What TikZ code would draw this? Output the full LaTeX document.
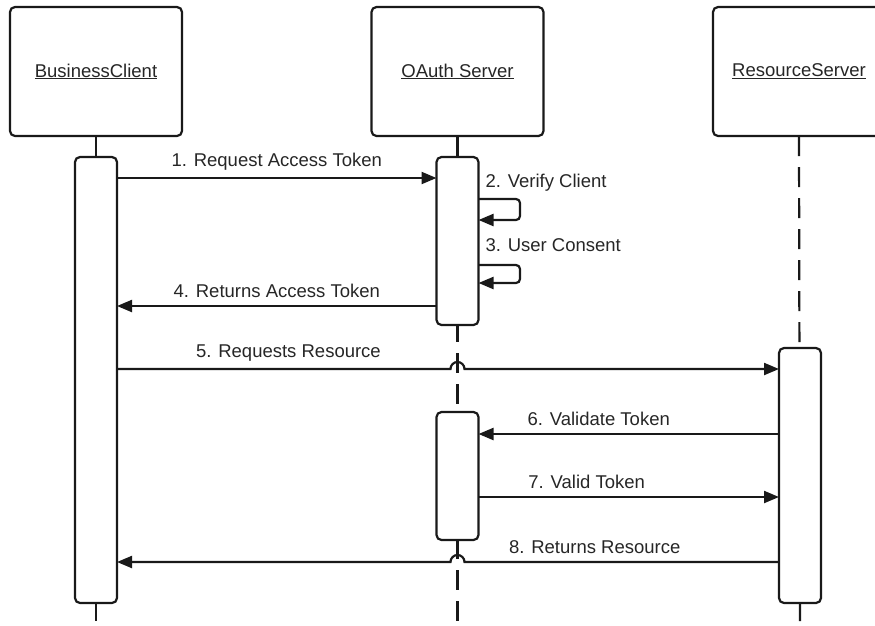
\documentclass[tikz,border=0pt]{standalone}
\usepackage{fontspec}
\setmainfont{Liberation Sans}
\usetikzlibrary{arrows.meta}

\begin{document}
\begin{tikzpicture}[x=1pt, y=-1pt, font=\fontsize{18.5}{22}\selectfont,
  line width=2.2pt, color=black!90, text=black!85,
  every node/.style={inner sep=0pt, outer sep=0pt},
  head/.style={draw, rounded corners=5pt, fill=white, minimum width=172pt, minimum height=129pt},
  bar/.style={draw, rounded corners=5pt, fill=white, minimum width=42pt},
  life/.style={dash pattern=on 20pt off 11pt},
  msg/.style={-{Triangle[length=15pt,width=12pt]}},
  loop/.style={msg, rounded corners=4pt}]
      \useasboundingbox (0,0) rectangle (875,625);
      \clip (0,0) rectangle (875,625);

      \draw (96,71.5) node[head] (bc) {\underline{BusinessClient}};
      \draw (457.5,71.5) node[head] (os) {\underline{OAuth Server}};
      \draw (799,71.5) node[head] (rs) {\underline{ResourceServer}};

      \coordinate (bottom) at (0,640);
      \draw[life] (bc.south) -- (bc.south |- bottom);
      \draw[life] (os.south) -- (os.south |- bottom);
      \draw[life] (rs.south) -- ([xshift=1pt]rs.south |- bottom);

      \draw (96,380) node[bar, minimum height=446pt] (bcbar) {};
      \draw (457.5,241) node[bar, minimum height=168pt] (osbar1) {};
      \draw (457.5,476) node[bar, minimum height=128pt] (osbar2) {};
      \draw (800,475.5) node[bar, minimum height=255pt] (rsbar) {};

      \coordinate (m1) at (0,178);
      \coordinate (m2) at (520,199);
      \coordinate (m2b) at (520,220);
      \coordinate (m3) at (520,265);
      \coordinate (m3b) at (520,283);
      \coordinate (m4) at (0,306);
      \coordinate (m5) at (0,369);
      \coordinate (m6) at (0,434);
      \coordinate (m7) at (0,497);
      \coordinate (m8) at (0,562);
      \coordinate (j5) at (osbar1.center |- m5);
      \coordinate (j8) at (osbar1.center |- m8);

      \draw[msg] (bcbar.east |- m1) -- (osbar1.west |- m1)
        node[midway, above=8pt] (l1) {1. Request Access Token};

      \draw[loop] (osbar1.east |- m2) -- (m2) -- (m2b) -- (osbar1.east |- m2b);
      \node[anchor=west] (l2) at ([xshift=7pt, yshift=16pt]osbar1.east |- m2) {2. Verify Client};

      \draw[loop] (osbar1.east |- m3) -- (m3) -- (m3b) -- (osbar1.east |- m3b);
      \node[anchor=west] (l3) at ([xshift=7pt, yshift=20pt]osbar1.east |- m3) {3. User Consent};

      \draw[msg] (osbar1.west |- m4) -- (bcbar.east |- m4)
        node[midway, above=8pt] (l4) {4. Returns Access Token};

      \draw[msg] (bcbar.east |- m5) -- ([xshift=-7pt]j5)
        node[pos=0.514, above=8pt] (l5) {5. Requests Resource}
        arc[start angle=180, end angle=360, radius=7] -- (rsbar.west |- m5);

      \draw[msg] (rsbar.west |- m6) -- (osbar2.east |- m6)
        node[pos=0.6, above=8pt] (l6) {6. Validate Token};

      \draw[msg] (osbar2.east |- m7) -- (rsbar.west |- m7)
        node[pos=0.36, above=8pt] (l7) {7. Valid Token};

      \draw[msg] (rsbar.west |- m8) -- ([xshift=7pt]j8)
        node[pos=0.586, above=8pt] (l8) {8. Returns Resource}
        arc[start angle=0, end angle=-180, radius=7] -- (bcbar.east |- m8);
    \end{tikzpicture}
\end{document}
